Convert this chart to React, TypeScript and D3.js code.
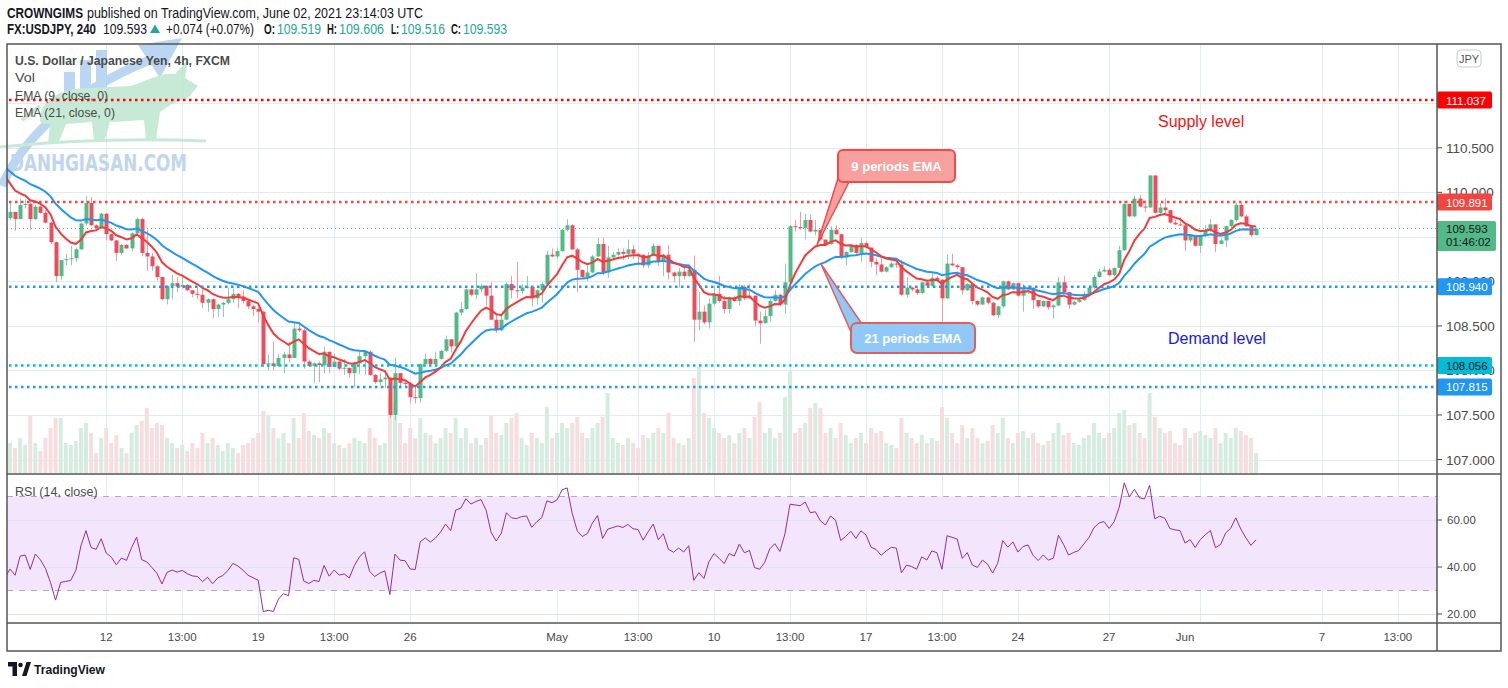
import React from "react";
import * as d3 from "d3";

// ---------- DATA (USD/JPY 4h, FXCM) ----------
const firstOpen = 109.71;
const closes = [
  109.78,109.70,109.86,109.87,109.70,109.84,109.77,109.66,109.44,109.06,
  109.24,109.25,109.26,109.36,109.65,109.88,109.63,109.60,109.76,109.53,
  109.46,109.32,109.41,109.37,109.54,109.70,109.32,109.28,109.17,109.05,
  108.80,108.95,108.98,108.94,108.96,108.90,108.86,108.85,108.76,108.80,
  108.69,108.74,108.76,108.80,108.86,108.83,108.78,108.72,108.69,108.66,
  108.07,108.08,108.05,108.14,108.18,108.14,108.47,108.45,108.10,108.05,
  108.08,108.06,108.21,108.04,108.10,108.02,108.03,107.97,108.08,108.16,
  108.21,107.95,107.87,107.90,107.92,107.50,107.97,107.86,107.85,107.70,
  107.69,108.07,108.13,108.07,108.13,108.22,108.35,108.27,108.65,108.69,
  108.91,108.85,108.91,108.95,108.84,108.57,108.45,108.57,108.97,108.90,
  108.89,108.93,108.94,108.81,108.90,108.97,109.30,109.28,109.34,109.58,
  109.63,109.36,109.13,109.05,109.10,109.28,109.42,109.10,109.27,109.30,
  109.33,109.31,109.36,109.31,109.30,109.18,109.29,109.40,109.22,109.30,
  109.10,109.06,109.11,109.06,109.13,108.57,108.66,108.54,108.75,108.86,
  108.78,108.69,108.82,108.78,108.94,108.81,108.84,108.56,108.53,108.61,
  108.78,108.85,108.74,108.99,109.62,109.61,109.60,109.69,109.56,109.58,
  109.47,109.42,109.58,109.53,109.27,109.33,109.41,109.32,109.43,109.38,
  109.22,109.19,109.11,109.16,109.20,109.19,108.85,108.93,108.91,108.87,
  108.99,108.95,109.04,109.02,108.81,109.20,109.18,109.16,108.90,108.97,
  108.78,108.74,108.82,108.76,108.62,108.72,109.00,108.91,108.98,108.84,
  108.91,108.93,108.79,108.72,108.78,108.71,108.73,108.99,108.88,108.74,
  108.77,108.79,108.86,108.93,109.05,109.11,109.13,109.07,109.15,109.35,
  109.87,109.73,109.93,109.84,109.83,110.19,109.77,109.83,109.80,109.66,
  109.64,109.63,109.46,109.51,109.40,109.51,109.58,109.64,109.42,109.46,
  109.62,109.69,109.86,109.73,109.62,109.52,109.593,
];
const highs = [
  109.88,109.78,109.93,109.92,109.92,109.86,109.86,109.80,109.67,109.45,
  109.24,109.31,109.40,109.38,109.66,109.96,109.95,109.64,109.77,109.77,
  109.54,109.47,109.42,109.42,109.55,109.72,109.72,109.58,109.32,109.18,
  109.05,108.96,109.07,109.05,109.07,108.97,108.90,108.93,108.93,108.81,
  108.81,108.75,108.77,108.93,108.92,108.87,108.90,108.79,108.74,108.71,
  108.67,108.18,108.32,108.18,108.21,108.32,108.55,108.53,108.47,108.12,
  108.09,108.10,108.27,108.20,108.19,108.10,108.13,108.03,108.10,108.21,
  108.23,108.23,107.96,107.97,107.97,107.92,108.14,107.97,107.88,107.87,
  107.81,108.08,108.19,108.14,108.21,108.23,108.39,108.35,108.66,108.77,
  108.92,108.92,109.09,108.97,108.96,108.99,108.63,108.63,108.99,109.06,
  109.22,108.97,109.06,108.95,108.92,108.99,109.34,109.37,109.38,109.59,
  109.70,109.64,109.38,109.13,109.18,109.30,109.49,109.49,109.40,109.33,
  109.37,109.37,109.47,109.41,109.32,109.30,109.33,109.43,109.40,109.31,
  109.41,109.11,109.15,109.16,109.18,109.29,108.88,108.73,108.81,108.95,
  109.06,108.84,108.83,108.84,108.97,108.96,108.97,108.83,108.66,108.68,
  108.80,108.90,108.86,109.20,109.63,109.69,109.78,109.76,109.75,109.69,
  109.58,109.47,109.62,109.63,109.53,109.34,109.42,109.42,109.49,109.45,
  109.38,109.26,109.27,109.17,109.22,109.22,109.24,109.05,108.94,108.94,
  109.00,109.02,109.09,109.06,109.02,109.30,109.31,109.20,109.16,108.98,
  108.98,108.79,108.83,108.83,108.77,108.73,109.01,109.01,108.99,108.99,
  108.97,108.96,108.93,108.79,108.79,108.78,108.74,109.05,109.06,108.88,
  108.78,108.81,108.89,108.96,109.07,109.14,109.17,109.15,109.16,109.40,
  109.91,109.87,109.96,109.97,109.91,110.19,110.19,109.88,109.93,109.80,
  109.69,109.72,109.65,109.52,109.52,109.52,109.63,109.70,109.64,109.48,
  109.63,109.70,109.88,109.88,109.75,109.62,109.606,
];
const lows = [
  109.69,109.57,109.70,109.82,109.58,109.69,109.76,109.65,109.42,108.99,
  109.02,109.18,109.18,109.22,109.35,109.63,109.62,109.58,109.59,109.46,
  109.45,109.23,109.30,109.36,109.34,109.53,109.28,109.12,109.12,109.01,
  108.79,108.74,108.80,108.88,108.92,108.89,108.82,108.80,108.70,108.66,
  108.59,108.60,108.60,108.74,108.76,108.70,108.75,108.69,108.61,108.54,
  108.04,108.00,108.00,108.04,107.97,108.09,108.14,108.43,108.02,108.04,
  107.86,107.87,107.97,107.97,108.04,108.00,107.95,107.92,107.81,107.96,
  107.95,107.94,107.85,107.83,107.80,107.47,107.44,107.82,107.82,107.63,
  107.63,107.64,108.04,108.06,108.06,108.12,108.21,108.20,108.26,108.62,
  108.68,108.83,108.80,108.88,108.73,108.56,108.42,108.44,108.56,108.81,
  108.81,108.86,108.92,108.72,108.74,108.76,108.96,109.27,109.25,109.33,
  109.56,109.35,108.88,109.04,109.00,109.09,109.28,109.07,109.04,109.25,
  109.28,109.24,109.25,109.25,109.19,109.15,109.15,109.29,109.17,109.06,
  109.02,108.99,108.93,109.02,109.05,108.32,108.45,108.52,108.47,108.73,
  108.76,108.64,108.64,108.77,108.73,108.79,108.80,108.50,108.30,108.53,
  108.55,108.77,108.72,108.64,108.98,109.56,109.58,109.47,109.55,109.52,
  109.46,109.40,109.41,109.52,109.25,109.18,109.32,109.31,109.22,109.37,
  109.16,109.07,109.10,109.10,109.15,109.15,108.84,108.82,108.89,108.85,
  108.86,108.94,108.94,109.01,108.55,108.80,109.17,109.14,108.85,108.89,
  108.74,108.72,108.73,108.74,108.61,108.59,108.70,108.90,108.90,108.83,
  108.66,108.86,108.69,108.70,108.71,108.68,108.58,108.72,108.87,108.69,
  108.73,108.76,108.78,108.85,108.91,109.04,109.10,109.06,109.06,109.15,
  109.34,109.72,109.72,109.83,109.78,109.83,109.76,109.76,109.74,109.65,
  109.63,109.62,109.34,109.44,109.39,109.32,109.50,109.56,109.33,109.42,
  109.38,109.60,109.67,109.72,109.61,109.50,109.516,
];
const volumes = [
  30,25,35,28,57,30,22,35,45,55,
  55,30,28,32,45,50,40,20,35,45,
  30,38,25,20,40,48,52,65,45,50,
  48,35,30,25,28,22,30,25,40,30,
  35,28,22,30,25,20,28,30,35,40,
  62,58,45,35,40,30,55,35,60,42,
  38,35,45,40,30,28,25,30,35,32,
  30,45,35,28,30,75,70,50,30,45,
  35,55,40,38,30,35,45,40,55,35,
  45,30,35,28,35,58,40,38,50,55,
  60,35,28,40,35,30,66,35,40,50,
  45,50,56,40,35,45,50,56,80,35,
  30,28,35,30,25,38,35,40,45,40,
  60,35,30,28,35,95,106,60,55,45,
  40,35,38,30,40,45,35,56,71,40,
  45,35,40,76,102,40,45,50,65,70,
  65,40,45,35,50,38,30,35,40,30,
  45,40,42,30,28,25,55,40,35,30,
  38,30,35,32,66,55,40,30,48,35,
  45,35,30,32,48,40,55,35,30,40,
  42,35,40,30,28,32,40,50,38,40,
  30,28,35,38,50,40,35,40,45,60,
  63,48,50,40,35,80,56,45,40,42,
  30,28,45,35,40,42,38,35,45,30,
  40,35,45,42,38,35,20,
];
// indicator state before the first visible bar
const ema9Seed = 110.18;
const ema21Seed = 110.28;
const rsiSeedGain = 0.03;
const rsiSeedLoss = 0.055;

const timeTickLabels = ["12","13:00","19","13:00","26","May","13:00","10","13:00","17","13:00","24","27","Jun","7","13:00"];
const timeGridIndex = [19,34,49,64,79,108,124,139,154,169,184,199,217,235,259,274];
const timeLabelIndex = [19,34,49,64,79,108,124,139,154,169,184,199,217,232,259,274];
const priceTicks = [111, 110.5, 110, 109.5, 109, 108.5, 108, 107.5, 107];
const rsiTicks = [60, 40, 20];
const levelValues = [111.037, 109.891, 108.94, 108.056, 107.815];
const lastPrice = 109.593;
const countdown = "01:46:02";

// ---------- STYLE ----------
const levelBg = ["#ff0000", "#f2453f", "#2196f3", "#00bcd4", "#2196f3"];
const levelFg = ["#ffffff", "#ffffff", "#ffffff", "#131722", "#ffffff"];
const UP = "#53b987", DN = "#eb4d5c";
const UPW = "#93c9b8", DNW = "#f29aa3";
const GRID = "#e3ebf2";
const BORDER = "#555555";
const SANS = "'Liberation Sans', Arial, sans-serif";
const TXT = "#4a4a4a";

function emaSeries(vals: number[], period: number, seed: number) {
  const k = 2 / (period + 1);
  let e = seed;
  const out = [seed];
  for (const v of vals) { e = e + k * (v - e); out.push(e); }
  return out;
}
function rsiSeries(vals: number[], start: number, g0: number, l0: number) {
  let g = g0, l = l0, prev = start;
  const out = [100 - 100 / (1 + g / l)];
  for (const v of vals) {
    const ch = v - prev;
    g = (g * 13 + Math.max(ch, 0)) / 14;
    l = (l * 13 + Math.max(-ch, 0)) / 14;
    out.push(100 - 100 / (1 + g / l));
    prev = v;
  }
  return out;
}

export default function App() {
  const L = 7, R = 1437, AXR = 1501, T = 44, PB = 474, RB = 623, XB = 651;
  const n = closes.length;
  const x = d3.scaleLinear().domain([0, n - 1]).range([10, 1256]);
  const y = d3.scaleLinear().domain([107, 111.037]).range([459.5, 100]);
  const ry = d3.scaleLinear().domain([20, 60]).range([614, 520]);
  const vh = d3.scaleLinear().domain([0, d3.max(volumes) as number]).range([0, 106]);
  const opens = closes.map((c, i) => (i === 0 ? firstOpen : closes[i - 1]));
  const ema9 = emaSeries(closes, 9, ema9Seed);
  const ema21 = emaSeries(closes, 21, ema21Seed);
  const rsi = rsiSeries(closes, firstOpen, rsiSeedGain, rsiSeedLoss);
  const lineP = d3.line<number>().x((_, k) => x(k - 1)).y((v) => y(v));
  const lineR = d3.line<number>().x((_, k) => x(k - 1)).y((v) => ry(v));
  const px = (v: number) => Math.round(v) + 0.5;
  // tick labels fully hidden behind a price label box are not drawn
  const boxCenters = [...levelValues.map((v) => y(v)), 236];
  const visibleTicks = priceTicks.filter((p) => boxCenters.every((c) => Math.abs(y(p) - c) > 4.5));

  return (
    <svg width={1508} height={688} style={{ position: "absolute", left: 0, top: 0, background: "#fff" }}
      fontFamily={SANS}>
      <defs>
        <clipPath id="pp"><rect x={L} y={T} width={R - L} height={PB - T} /></clipPath>
        <clipPath id="rp"><rect x={L} y={PB} width={R - L} height={RB - PB} /></clipPath>
      </defs>
      <rect x={0} y={0} width={1508} height={688} fill="#fff" />

      {/* header */}
      <text x={7} y={17.5} fontSize={14} fontWeight="bold" fill="#131722" textLength={76} lengthAdjust="spacingAndGlyphs">CROWNGIMS</text>
      <text x={87} y={17.5} fontSize={14} fill="#131722" textLength={336} lengthAdjust="spacingAndGlyphs">published on TradingView.com, June 02, 2021 23:14:03 UTC</text>
      <g fontSize={14}>
        <text x={7} y={34} fontWeight="bold" fill="#131722" textLength={89} lengthAdjust="spacingAndGlyphs">FX:USDJPY, 240</text>
        <text x={103} y={34} fill="#131722" textLength={44} lengthAdjust="spacingAndGlyphs">109.593</text>
        <polygon points="150,33 160,33 155,24.5" fill="#26a69a" />
        <text x={166} y={34} fill="#131722" textLength={88} lengthAdjust="spacingAndGlyphs">+0.074 (+0.07%)</text>
        <text x={264} y={34} fontWeight="bold" fill="#131722" textLength={11} lengthAdjust="spacingAndGlyphs">O:</text>
        <text x={277} y={34} fill="#26a69a" textLength={44} lengthAdjust="spacingAndGlyphs">109.519</text>
        <text x={327} y={34} fontWeight="bold" fill="#131722" textLength={10} lengthAdjust="spacingAndGlyphs">H:</text>
        <text x={339} y={34} fill="#26a69a" textLength={45} lengthAdjust="spacingAndGlyphs">109.606</text>
        <text x={391} y={34} fontWeight="bold" fill="#131722" textLength={8} lengthAdjust="spacingAndGlyphs">L:</text>
        <text x={401} y={34} fill="#26a69a" textLength={44} lengthAdjust="spacingAndGlyphs">109.516</text>
        <text x={451} y={34} fontWeight="bold" fill="#131722" textLength={10} lengthAdjust="spacingAndGlyphs">C:</text>
        <text x={463} y={34} fill="#26a69a" textLength={44} lengthAdjust="spacingAndGlyphs">109.593</text>
      </g>

      {/* grid */}
      <g stroke={GRID} strokeWidth={1}>
        {priceTicks.map((p) => (
          <line key={"hp" + p} x1={L} x2={R} y1={px(y(p))} y2={px(y(p))} />
        ))}
        {timeGridIndex.map((i, k) => (
          <line key={"v" + k} x1={px(x(i))} x2={px(x(i))} y1={T} y2={RB} />
        ))}
      </g>

      {/* watermark logo */}
      <g opacity={0.8}>
        <g fill="#a9cdef">
          <rect x={64} y={72} width={11} height={40} />
          <rect x={80} y={60} width={11} height={52} />
          <rect x={96} y={50} width={11} height={62} />
        </g>
        <path d="M2,186 C 22,140 70,92 150,60" stroke="#a9cdef" strokeWidth={9} fill="none" />
        <polygon points="138,45 182,38 160,78" fill="#a9cdef" />
        <path d="M40,120 C 40,100 60,88 90,88 L 130,86 C 150,80 160,72 175,74 L 188,60 L 185,78 L 198,86 L 188,98 L 172,104 L 160,112 L 156,140 L 146,140 L 144,120 L 110,122 L 104,142 L 94,142 L 92,122 L 66,124 L 58,144 L 48,144 L 50,124 C 44,124 40,124 40,120 Z"
          fill="#b9e5cb" />
        <path d="M40,106 L 22,120" stroke="#b9e5cb" strokeWidth={4} />
        <path d="M0,147 Q 100,137 206,141" stroke="#b9e5cb" strokeWidth={3} fill="none" />
        <text x={10} y={171} fontSize={23} fontWeight="bold" fill="#b1cdea"
          fontFamily="'DejaVu Sans Condensed','Liberation Sans Narrow','Roboto',sans-serif"
          textLength={177} lengthAdjust="spacingAndGlyphs">DANHGIASAN.COM</text>
      </g>

      {/* price pane */}
      <g clipPath="url(#pp)">
        {volumes.map((v, i) => (
          <rect key={"vol" + i} x={x(i) - 2} y={PB - 1 - vh(v)} width={4} height={vh(v)}
            fill={closes[i] >= opens[i] ? "#d5ede1" : "#f6dde0"} />
        ))}
        {closes.map((c, i) => {
          const o = opens[i];
          const up = c >= o;
          const hi = Math.max(highs[i], o, c), lo = Math.min(lows[i], o, c);
          const top = y(Math.max(o, c)), bot = y(Math.min(o, c));
          const cx = Math.round(x(i));
          return (
            <g key={"c" + i}>
              <line x1={cx + 0.5} x2={cx + 0.5} y1={y(hi)} y2={y(lo)} stroke={up ? UPW : DNW} strokeWidth={1} />
              <rect x={cx - 1.5} y={top} width={4} height={Math.max(1, bot - top)} fill={up ? UP : DN} />
            </g>
          );
        })}
        <path d={lineP(ema21) || ""} fill="none" stroke="#2196f3" strokeWidth={2} />
        <path d={lineP(ema9) || ""} fill="none" stroke="#f23b3b" strokeWidth={2} />
        <line x1={L} x2={R} y1={y(lastPrice)} y2={y(lastPrice)} stroke="#53b987" strokeWidth={1} strokeDasharray="1 3" />
        {levelValues.map((v, k) => (
          <line key={"lv" + k} x1={L + 2} x2={R} y1={y(v)} y2={y(v)} stroke={levelBg[k]} strokeWidth={2.5} strokeDasharray="2.5 3.5" />
        ))}
      </g>

      {/* legend */}
      <g fill={TXT} fontSize={13}>
        <text x={15} y={65} fontWeight="bold" textLength={215} lengthAdjust="spacingAndGlyphs">U.S. Dollar / Japanese Yen, 4h, FXCM</text>
        <text x={15} y={82} textLength={20} lengthAdjust="spacingAndGlyphs">Vol</text>
        <text x={15} y={99.5} textLength={93} lengthAdjust="spacingAndGlyphs">EMA (9, close, 0)</text>
        <text x={15} y={116.5} textLength={100} lengthAdjust="spacingAndGlyphs">EMA (21, close, 0)</text>
      </g>

      {/* annotations */}
      <text x={1158} y={126.5} fontSize={16} fill="#f01616">Supply level</text>
      <text x={1168} y={343.5} fontSize={16} fill="#1717f0">Demand level</text>
      <g>
        <polygon points="817,245 840,172 849,182" fill="#f7a19f" stroke="#ef4b4b" strokeWidth={1.5} strokeLinejoin="round" />
        <rect x={838} y={150} width={117} height={32} rx={5} fill="#f7a19f" stroke="#ef4b4b" strokeWidth={2} />
        <polygon points="839.5,175 846,181 850,180.5" fill="#f7a19f" />
        <text x={896.5} y={171} textAnchor="middle" fontSize={13} fontWeight="bold" fill="#fff">9 periods EMA</text>
      </g>
      <g>
        <polygon points="821,264 851,332 862,324" fill="#90c8f8" stroke="#e35d5d" strokeWidth={1.5} strokeLinejoin="round" />
        <rect x={851} y={323} width={124} height={30} rx={6} fill="#90c8f8" stroke="#e35d5d" strokeWidth={2} />
        <polygon points="852,331 853,325 861,325" fill="#90c8f8" />
        <text x={913} y={343} textAnchor="middle" fontSize={13} fontWeight="bold" fill="#fff">21 periods EMA</text>
      </g>

      {/* RSI pane */}
      <g clipPath="url(#rp)">
        <rect x={L} y={ry(70)} width={R - L} height={ry(30) - ry(70)} fill="#f3e6fc" />
        {rsiTicks.map((t) => (
          <line key={"rg" + t} x1={L} x2={R} y1={px(ry(t))} y2={px(ry(t))} stroke="#dde3ef" strokeWidth={1} />
        ))}
        <line x1={L} x2={R} y1={ry(70)} y2={ry(70)} stroke="#b3adb8" strokeWidth={1} strokeDasharray="6 6" />
        <line x1={L} x2={R} y1={ry(30)} y2={ry(30)} stroke="#b3adb8" strokeWidth={1} strokeDasharray="6 6" />
        <path d={lineR(rsi) || ""} fill="none" stroke="#8e2ea8" strokeWidth={1} />
      </g>
      <text x={15} y={496} fontSize={12.5} fill={TXT}>RSI (14, close)</text>

      {/* price axis */}
      <g fill={TXT} fontSize={13.5}>
        {priceTicks.map((p) => (
          <line key={"ptm" + p} x1={R} x2={R + 5} y1={y(p)} y2={y(p)} stroke={TXT} />
        ))}
        {visibleTicks.map((p) => (
          <text key={"pt" + p} x={1446} y={y(p) + 5}>{p.toFixed(3)}</text>
        ))}
      </g>
      {levelValues.map((v, k) => (
        <g key={"lb" + k}>
          <rect x={R} y={y(v) - 8.5} width={55} height={17} rx={2} fill={levelBg[k]} />
          <text x={1446} y={y(v) + 4.5} fontSize={11.5} fill={levelFg[k]}>{v.toFixed(3)}</text>
        </g>
      ))}
      <rect x={R} y={221} width={59} height={30} rx={2} fill="#53b987" />
      <text x={1446} y={233} fontSize={11.5} fill="#131722">{lastPrice.toFixed(3)}</text>
      <text x={1446} y={246} fontSize={11.5} fill="#131722">{countdown}</text>
      <rect x={1457} y={50} width={24} height={17} rx={4} fill="#fff" stroke="#c8cbd2" />
      <text x={1469} y={62.5} textAnchor="middle" fontSize={11} fill="#555">JPY</text>

      {/* RSI axis */}
      <g fill={TXT} fontSize={11.5}>
        {rsiTicks.map((t) => (
          <g key={"rt" + t}>
            <line x1={R} x2={R + 5} y1={ry(t)} y2={ry(t)} stroke={TXT} />
            <text x={1447} y={ry(t) + 4}>{t.toFixed(2)}</text>
          </g>
        ))}
      </g>

      {/* time axis */}
      <g fill={TXT} fontSize={11.5} textAnchor="middle">
        {timeLabelIndex.map((i, k) => (
          <text key={"tl" + k} x={x(i)} y={641}>{timeTickLabels[k]}</text>
        ))}
      </g>

      {/* borders */}
      <g stroke={BORDER} strokeWidth={1.5} fill="none">
        <rect x={L} y={T} width={AXR - L} height={XB - T} />
        <line x1={R} x2={R} y1={T} y2={XB} />
        <line x1={L} x2={AXR} y1={PB} y2={PB} />
        <line x1={L} x2={AXR} y1={RB} y2={RB} />
      </g>

      {/* footer logo */}
      <g fill="#131722">
        <path d="M8,662 h9 v14 h-4.5 v-9.5 h-4.5 z" />
        <circle cx={20.5} cy={665} r={2.3} />
        <path d="M22,676 L 26.5,662 L 31,662 L 26.5,676 Z" />
        <text x={34} y={674} fontSize={13.5} fontWeight="bold" textLength={71} lengthAdjust="spacingAndGlyphs">TradingView</text>
      </g>
    </svg>
  );
}
